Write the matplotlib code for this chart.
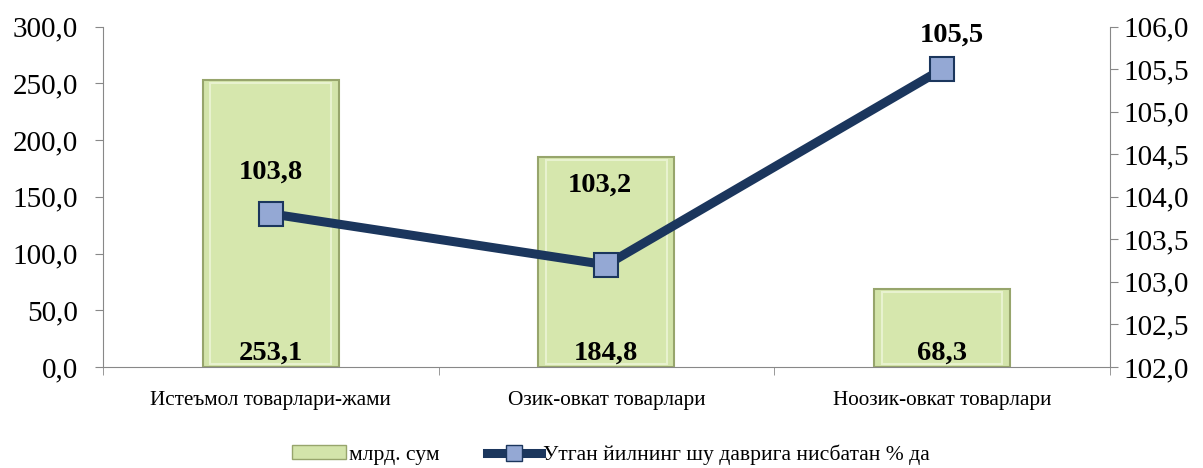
import matplotlib.pyplot as plt
from matplotlib.lines import Line2D
from matplotlib.patches import Patch
from matplotlib.ticker import FuncFormatter, MultipleLocator

plt.rcParams['font.family'] = ['Liberation Serif', 'DejaVu Serif']

categories = ['Истеъмол товарлари-жами', 'Озик-овкат товарлари', 'Ноозик-овкат товарлари']
volume = [253.1, 184.8, 68.3]      # млрд. сум
growth = [103.8, 103.2, 105.5]     # % to last year
bar_name = 'млрд. сум'
line_name = 'Утган йилнинг шу даврига нисбатан % да'

comma = FuncFormatter(lambda v, p: f'{v:.1f}'.replace('.', ','))

fig = plt.figure(figsize=(12.03, 4.68), dpi=100)
ax = fig.add_axes([0.0856, 0.216, 0.837, 0.727])
x = range(len(categories))

ax.bar(x, volume, width=0.405, color='#d3e4aa', edgecolor='#97a56c', linewidth=1.5, zorder=2)
ax.bar(x, [v - 5 for v in volume], width=0.36, bottom=2.5, color='#d6e7ad',
       edgecolor='#e8f2cf', linewidth=1.5, zorder=2)
for i, v in enumerate(volume):
    ax.text(i, 12, f'{v:.1f}'.replace('.', ','), ha='center', va='center',
            fontsize=20.5, fontweight='bold')

ax.set_xlim(-0.5, 2.5)
ax.set_ylim(0, 300)
ax.yaxis.set_major_locator(MultipleLocator(50))
ax.yaxis.set_major_formatter(comma)
ax.set_xticks(list(x))
ax.set_xticklabels(categories, fontsize=15.3)
ax.set_xticks([-0.5, 0.5, 1.5, 2.5], minor=True)
ax.tick_params(axis='x', which='major', length=0, pad=17)
ax.tick_params(axis='x', which='minor', length=6, color='#888888')
ax.tick_params(axis='y', labelsize=21, length=6, color='#888888', pad=12)
for s in ['top', 'right']:
    ax.spines[s].set_visible(False)
ax.spines['left'].set_color('#888888')
ax.spines['bottom'].set_color('#888888')

ax2 = ax.twinx()
ax2.plot(x, growth, color='#1b365d', linewidth=6.5, marker='s', markersize=17,
         markerfacecolor='#94a8d4', markeredgecolor='#1b365d', markeredgewidth=1.5, zorder=3)
ax2.set_ylim(102, 106)
ax2.yaxis.set_major_locator(MultipleLocator(0.5))
ax2.yaxis.set_major_formatter(comma)
ax2.tick_params(axis='y', labelsize=21, length=6, color='#888888', pad=4)
for s in ['top', 'left', 'bottom']:
    ax2.spines[s].set_visible(False)
ax2.spines['right'].set_color('#888888')

offsets = [(0, 0.49), (-0.02, 0.94), (0.03, 0.40)]
for i, g in enumerate(growth):
    dx, dy = offsets[i]
    ax2.text(i + dx, g + dy, f'{g:.1f}'.replace('.', ','), ha='center', va='center',
             fontsize=20.5, fontweight='bold')

handles = [
    Patch(facecolor='#d3e4aa', edgecolor='#97a56c', label=bar_name),
    Line2D([0], [0], color='#1b365d', linewidth=6.5, marker='s', markersize=11,
           markerfacecolor='#94a8d4', markeredgecolor='#1b365d', label=line_name),
]
fig.legend(handles=handles, loc='lower center', ncol=2, frameon=False, fontsize=15.6,
           bbox_to_anchor=(0.508, -0.035), handlelength=2.5, handleheight=0.6,
           handletextpad=0.1, columnspacing=2.2)

fig.savefig('out.png', dpi=100)
